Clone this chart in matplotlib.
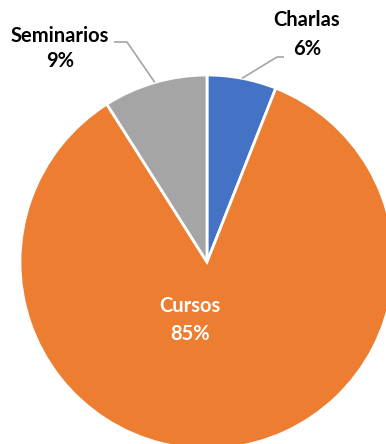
import numpy as np
import matplotlib
matplotlib.use("Agg")
from matplotlib import pyplot as plt

# share of activities
labels = ["Charlas", "Cursos", "Seminarios"]
values = [6, 85, 9]
colors = ["#4472C4", "#ED7D31", "#A5A5A5"]

W, H = 386, 444
fig = plt.figure(figsize=(W / 100, H / 100), dpi=100)
ax = fig.add_axes([0, 0, 1, 1])

cx, cy, r = 207, H - 262, 187
wedges, _ = ax.pie(values, colors=colors, startangle=90, counterclock=False,
                   radius=r, center=(cx, cy), frame=True,
                   wedgeprops=dict(edgecolor="white", linewidth=2.0))
ax.set_xlim(0, W)
ax.set_ylim(0, H)
ax.set_aspect("equal")
ax.axis("off")

font = dict(family="Lato", fontweight="bold", fontsize=14.5)

# leader lines from wedge mid-angle to the label
def leader(w, elbow, end):
    ang = np.deg2rad((w.theta1 + w.theta2) / 2)
    x0, y0 = cx + r * np.cos(ang), cy + r * np.sin(ang)
    ax.plot([x0, elbow[0], end[0]], [y0, elbow[1], end[1]],
            color="#A5A5A5", lw=1.2, solid_capstyle="butt")

leader(wedges[0], (277, H - 57), (284, H - 57))
leader(wedges[2], (127, H - 42), (114, H - 42))

def label(x, y1, y2, name, v, color="black"):
    ax.text(x, H - y1, name, ha="center", va="center", color=color, **font)
    ax.text(x, H - y2, f"{v}%", ha="center", va="center", color=color, **font)

label(307, 20, 49, labels[0], values[0])
label(60, 36, 61, labels[2], values[2])
label(190, 306, 334, labels[1], values[1], color="white")

fig.savefig("out.png", dpi=100)
